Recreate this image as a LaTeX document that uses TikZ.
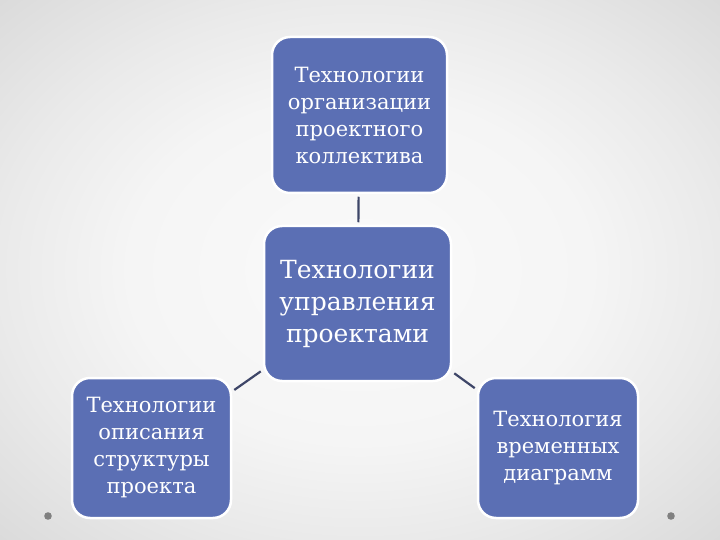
\documentclass[tikz,border=0pt]{standalone}
\usepackage{fontspec}
\setmainfont{DejaVu Serif}
\definecolor{boxblue}{RGB}{91,111,180}
\definecolor{linkc}{RGB}{62,70,104}
\definecolor{bgA}{RGB}{250,250,250}
\definecolor{bgB}{RGB}{245,245,245}
\definecolor{bgC}{RGB}{234,234,234}
\definecolor{bgD}{RGB}{218,218,218}
\definecolor{dotc}{RGB}{128,128,128}
\pgfdeclareradialshading{bgshade}{\pgfpoint{0bp}{0bp}}{color(0bp)=(bgA); color(16bp)=(bgB); color(25bp)=(bgC); color(36bp)=(bgD); color(50bp)=(bgD)}
\begin{document}
\begin{tikzpicture}[x=1pt,y=-1pt,
  box/.style={draw=white, line width=2.5pt, fill=boxblue, rounded corners=18pt,
    text=white, align=center, inner sep=0pt},
  smallfont/.style={font=\fontsize{21}{27}\selectfont},
  bigfont/.style={font=\fontsize{25}{32}\selectfont},
  link/.style={draw=linkc, line width=2.2pt, shorten <=2.5pt, shorten >=2.5pt},
  dot/.style={fill=dotc}]
\shade[shading=bgshade] (0,0) rectangle (720,540);
\useasboundingbox (0,0) rectangle (720,540);
\node[box, smallfont, minimum width=175pt, minimum height=156pt] (top) at (359.5,115)
  {Технологии\\организации\\проектного\\коллектива};
\node[box, bigfont, minimum width=187pt, minimum height=155pt] (mid) at (357.5,303.5)
  {Технологии\\управления\\проектами};
\node[box, smallfont, minimum width=159pt, minimum height=140pt] (left) at (151.5,448)
  {Технологии\\описания\\структуры\\проекта};
\node[box, smallfont, minimum width=160pt, minimum height=140pt] (right) at (558,448)
  {Технология\\временных\\диаграмм};
\draw[link] (top) -- (mid);
\draw[link] (mid) -- (left);
\draw[link] (mid) -- (right);
\fill[dot] (48,516) circle (3.8);
\fill[dot] (671,516) circle (3.8);
\end{tikzpicture}
\end{document}
